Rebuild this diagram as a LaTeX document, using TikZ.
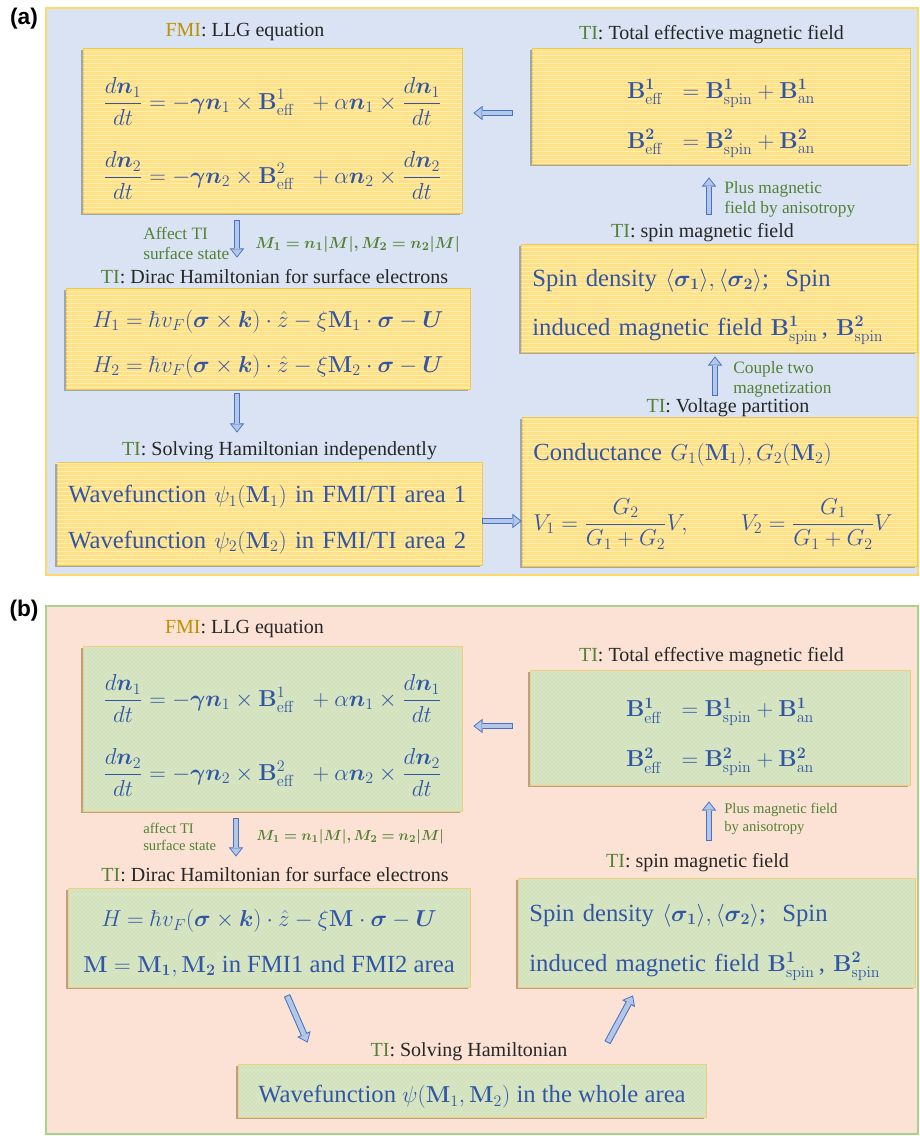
\documentclass[tikz,border=0pt]{standalone}
\usepackage{amsmath}
\usepackage{bm}
\usepackage[no-math]{fontspec}
\setmainfont{Liberation Serif}
\newfontfamily\panelfont{Liberation Sans}
\usepackage{xcolor}
\usepackage{tikz}
\usetikzlibrary{arrows.meta,positioning,calc,patterns,shadows}

\definecolor{panelAfill}{RGB}{218,227,243}
\definecolor{panelAline}{RGB}{255,217,102}
\definecolor{panelBfill}{RGB}{251,226,213}
\definecolor{panelBline}{RGB}{169,209,142}
\definecolor{yelfill}{RGB}{255,226,135}
\definecolor{yelstripe}{RGB}{255,238,180}
\definecolor{yelline}{RGB}{240,200,80}
\definecolor{grnfill}{RGB}{210,226,188}
\definecolor{grndot}{RGB}{236,243,228}
\definecolor{grnline}{RGB}{240,205,110}
\definecolor{eqblue}{RGB}{50,86,166}
\definecolor{tigreen}{RGB}{84,130,53}
\definecolor{fmigold}{RGB}{191,144,0}
\definecolor{headgray}{RGB}{38,38,38}
\definecolor{arrfill}{RGB}{180,199,231}
\definecolor{arrline}{RGB}{68,114,196}

\newcommand{\TIlab}{\textcolor{tigreen}{TI}}
\newcommand{\FMIlab}{\textcolor{fmigold}{FMI}}
% lines of a box, lowered by #1 without changing the box size
\newcommand{\boxlines}[3]{%
  \setbox0=\hbox{\begin{tabular}{@{}#2@{}}#3\end{tabular}}%
  \dimen0=\ht0 \dimen2=\dp0
  \setbox0=\hbox{\lower#1\box0}%
  \ht0=\dimen0 \dp0=\dimen2 \box0}
\newcommand{\llgline}[1]{$\displaystyle\frac{d\bm{n}_{#1}}{dt}=-\bm{\gamma}\bm{n}_{#1}\times\mathbf{B}^{#1}_{\mathrm{eff}}\;\;+\alpha\bm{n}_{#1}\times\frac{d\bm{n}_{#1}}{dt}$}
\newcommand{\befline}[1]{$\mathbf{B}^{\mathbf{#1}}_{\mathrm{eff}}\;\;=\mathbf{B}^{\mathbf{#1}}_{\mathrm{spin}}+\mathbf{B}^{\mathbf{#1}}_{\mathrm{an}}$}
\newcommand{\dirline}[1]{$H_{#1}=\hbar v_F(\bm{\sigma}\times\bm{k})\cdot\hat{z}-\xi\mathbf{M}_{#1}\cdot\bm{\sigma}-\bm{U}$}
\newcommand{\spinA}{Spin density $\langle\bm{\sigma}_{\mathbf{1}}\rangle,\langle\bm{\sigma}_{\mathbf{2}}\rangle$;\ \ Spin}
\newcommand{\spinB}{induced magnetic field $\mathbf{B}^{\mathbf{1}}_{\mathrm{spin}}$\,, $\mathbf{B}^{\mathbf{2}}_{\mathrm{spin}}$}

\begin{document}
\begin{tikzpicture}[
  x=0.75pt, y=-0.75pt,
  head/.style={font=\fontsize{15}{18}\selectfont, text=headgray, inner sep=0pt, anchor=base},
  note/.style={font=\fontsize{13}{15}\selectfont, text=tigreen, inner sep=0pt, align=left},
  smallnote/.style={note, font=\fontsize{11}{13}\selectfont},
  panlab/.style={font=\panelfont\bfseries\fontsize{17}{20}\selectfont, inner sep=0pt},
  eqbox/.style={draw, line width=0.6pt, text=eqblue, inner xsep=8.5pt, inner ysep=0pt,
    font=\fontsize{18.5}{34}\selectfont},
  boxa/.style={eqbox, draw=yelline, fill=yelfill,
    drop shadow={shadow xshift=-1.8pt, shadow yshift=-1.5pt, fill=black!55, opacity=.55},
    postaction={pattern=horizontal lines, pattern color=yelstripe}},
  boxb/.style={eqbox, draw=grnline, fill=grnfill,
    drop shadow={shadow xshift=-1.5pt, shadow yshift=-1.5pt, fill=brown!60!black, opacity=.45},
    postaction={pattern=crosshatch dots, pattern color=grndot}},
  fatarr/.style={draw=arrline, line width=5pt, -{Triangle[length=7pt,width=11pt,line width=0pt]},
    postaction={draw=arrfill, line width=3.5pt, shorten <=0.75pt, shorten >=1.1pt,
      -{Triangle[length=5.1pt,width=8.1pt,line width=0pt]}}}
]
\useasboundingbox (0,0) rectangle (920,1136);
\fill[white] (0,0) rectangle (920,1136);

% panel frames
\draw[draw=panelAline, fill=panelAfill, line width=2.2pt] (46,8) rectangle (918,575);
\draw[draw=panelBline, fill=panelBfill, line width=2.2pt] (46,606) rectangle (918,1134);
\node[panlab] (tagA) at (24,19) {(a)};
\node[panlab] (tagB) at (24,611) {(b)};

% ---- (a) ----
\node[boxa, minimum width=284.25pt, minimum height=123.75pt, font=\fontsize{17}{34}\selectfont]
  (llgA) at (272.5,130.5) {\boxlines{6pt}{c}{\llgline{1}\\[21.5pt]\llgline{2}}};
\node[boxa, minimum width=283.5pt, minimum height=87pt] (totA) at (721,106)
  {\boxlines{6pt}{c}{\befline{1}\\[3.5pt]\befline{2}}};
\node[boxa, text width=280pt, minimum height=81pt] (spinA) at (719,298)
  {\boxlines{2.7pt}{l}{\spinA\\[2.75pt]\spinB}};
\node[boxa, text width=279.25pt, minimum height=111.75pt] (voltA) at (719.5,491.5)
  {\boxlines{-2pt}{l}{Conductance $G_1(\mathbf{M}_1),G_2(\mathbf{M}_2)$\\[18.5pt]
   $V_1=\dfrac{G_2}{G_1+G_2}V,\qquad V_2=\dfrac{G_1}{G_1+G_2}V$}};
\node[boxa, minimum width=303pt, minimum height=75.75pt] (dirA) at (268,338.5)
  {\boxlines{1.6pt}{c}{\dirline{1}\\\dirline{2}}};
\node[boxa, text width=301.75pt, minimum height=77.25pt] (waveA) at (269.5,513.5)
  {\boxlines{2.3pt}{l}{Wavefunction $\psi_1(\mathbf{M}_1)$ in FMI/TI area 1\\
   Wavefunction $\psi_2(\mathbf{M}_2)$ in FMI/TI area 2}};

\node[head] (hLLGa) at (245,36.5) {\FMIlab: LLG equation};
\node[head] (hTotA) at (711.5,39) {\TIlab: Total effective magnetic field};
\node[head] (hSpinA) at (702.5,237) {\TIlab: spin magnetic field};
\node[head] (hVoltA) at (728,412) {\TIlab: Voltage partition};
\node[head] (hDirA) at (274.5,283) {\TIlab: Dirac Hamiltonian for surface electrons};
\node[head] (hSolveA) at (279.5,455) {\TIlab: Solving Hamiltonian independently};

\node[note, anchor=west] (affA) at (143,243) {Affect TI\\surface state};
\node[note, anchor=base west] (magA) at (255,248) {$\bm{M_1=n_1|M|,M_2=n_2|M|}$};
\node[note, anchor=west] (plusA) at (724,199) {Plus magnetic\\field by anisotropy};
\node[note, anchor=west] (coupA) at (733,379) {Couple two\\magnetization};

\draw[fatarr] ($(totA.west)+(-19,7)$) -- ($(llgA.east)+(11,-17.5)$);
\draw[fatarr] ($(spinA.north)+(-10,-29)$) -- ($(totA.south)+(-12,13)$);
\draw[fatarr] ($(voltA.north)+(-4.5,-21)$) -- ($(spinA.south)+(-4,4)$);
\draw[fatarr] ($(waveA.east)+(0,7.5)$) -- ($(voltA.west)+(0,29.5)$);
\draw[fatarr] ($(llgA.south)+(-35.5,7)$) -- ($(dirA.north)+(-31,-30)$);
\draw[fatarr] ($(dirA.south)+(-31,4)$) -- ($(waveA.north)+(-32.5,-29)$);

% ---- (b) ----
\node[boxb, minimum width=284.25pt, minimum height=123.75pt, font=\fontsize{17}{34}\selectfont]
  (llgB) at (272.5,728.5) {\boxlines{5.3pt}{c}{\llgline{1}\\[21.5pt]\llgline{2}}};
\node[boxb, minimum width=285pt, minimum height=86.25pt] (totB) at (720,727.5)
  {\boxlines{4pt}{c}{\befline{1}\\[3.5pt]\befline{2}}};
\node[boxb, text width=280.75pt, minimum height=81.75pt] (spinB) at (716.5,932.5)
  {\boxlines{3.5pt}{l}{\spinA\\[3.5pt]\spinB}};
\node[boxb, minimum width=301.5pt, minimum height=74.25pt] (dirB) at (269,937.5)
  {\boxlines{2.1pt}{c}{\dirline{}\\$\mathbf{M}=\mathbf{M}_{\mathbf{1}},\mathbf{M}_{\mathbf{2}}$ in FMI1 and FMI2 area}};
\node[boxb, minimum width=351pt, minimum height=39.75pt] (waveB) at (472,1090.5)
  {\boxlines{2.3pt}{c}{Wavefunction $\psi(\mathbf{M}_1,\mathbf{M}_2)$ in the whole area}};

\node[head] (hLLGb) at (244.5,633) {\FMIlab: LLG equation};
\node[head] (hTotB) at (711.5,661.5) {\TIlab: Total effective magnetic field};
\node[head] (hSpinB) at (697.5,867) {\TIlab: spin magnetic field};
\node[head] (hDirB) at (275,881.5) {\TIlab: Dirac Hamiltonian for surface electrons};
\node[head] (hSolveB) at (469,1056.5) {\TIlab: Solving Hamiltonian};

\node[smallnote, anchor=west] (affB) at (143,837) {affect TI\\surface state};
\node[smallnote, anchor=base west] (magB) at (256,840) {$\bm{M_1=n_1|M|,M_2=n_2|M|}$};
\node[smallnote, anchor=west] (plusB) at (724,819) {Plus magnetic field\\by anisotropy};

\draw[fatarr] ($(totB.west)+(-17,-1.5)$) -- ($(llgB.east)+(11,-2.5)$);
\draw[fatarr] ($(spinB.north)+(-7.5,-37)$) -- ($(totB.south)+(-11,16)$);
\draw[fatarr] ($(llgB.south)+(-36.5,7)$) -- ($(dirB.north)+(-33,-31)$);
\draw[fatarr] ($(dirB.south)+(18,8)$) -- ($(waveB.north west)+(70,-21)$);
\draw[fatarr] ($(waveB.north east)+(-99,-21)$) -- ($(spinB.south)+(-83.5,8)$);

\end{tikzpicture}
\end{document}
